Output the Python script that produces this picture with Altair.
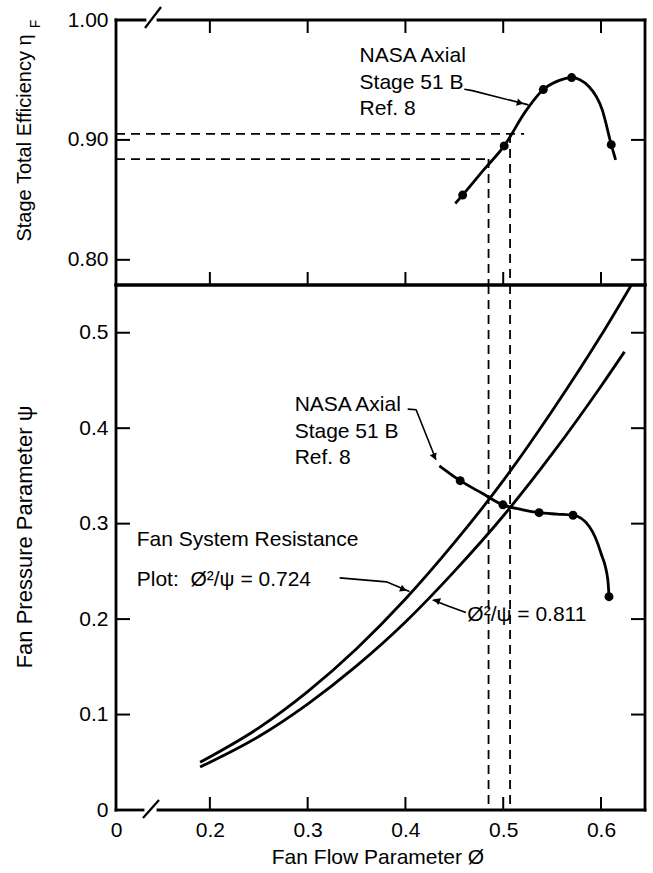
import altair as alt
import pandas as pd

FONT = "Liberation Sans, Arial, sans-serif"

# ---------------- values ----------------
X_MIN, X_MAX = 0.104, 0.645          # broken axis: left edge is labelled 0
ETA_MIN, ETA_MAX = 0.779, 1.0
PSI_MIN, PSI_MAX = 0.0, 0.55

x_tick_values = [0.2, 0.3, 0.4, 0.5, 0.6]
eta_tick_values = [0.8, 0.9, 1.0]
psi_tick_values = [0.0, 0.1, 0.2, 0.3, 0.4, 0.5]

# stage efficiency (top panel)
eff_phi = [0.4585, 0.501, 0.541, 0.570, 0.6105]
eff_eta = [0.854, 0.895, 0.942, 0.952, 0.896]
eff_curve_phi = [0.451, 0.4585, 0.480, 0.501, 0.523, 0.541, 0.5567, 0.570, 0.5878, 0.6013, 0.6105, 0.615]
eff_curve_eta = [0.847, 0.854, 0.875, 0.895, 0.924, 0.942, 0.9494, 0.952, 0.9444, 0.925, 0.896, 0.8833]

# fan pressure parameter (bottom panel)
psi_phi = [0.456, 0.4997, 0.5367, 0.5714, 0.6082]
psi_val = [0.345, 0.3197, 0.3115, 0.3088, 0.2235]
psi_curve_phi = [0.4347, 0.456, 0.478, 0.4997, 0.520, 0.5367, 0.555, 0.5714, 0.588, 0.600, 0.607, 0.6082]
psi_curve_val = [0.3606, 0.345, 0.332, 0.3197, 0.3145, 0.3115, 0.310, 0.3088, 0.297, 0.269, 0.241, 0.2235]

# fan system resistance curves
res724_phi = [0.19, 0.25, 0.30, 0.35, 0.40, 0.45, 0.50, 0.55, 0.60, 0.631]
res724_psi = [0.050, 0.086, 0.124, 0.169, 0.221, 0.280, 0.345, 0.418, 0.497, 0.550]
res811_phi = [0.19, 0.25, 0.30, 0.35, 0.40, 0.45, 0.50, 0.55, 0.60, 0.624]
res811_psi = [0.045, 0.077, 0.111, 0.151, 0.197, 0.250, 0.308, 0.373, 0.444, 0.480]

# operating-point construction lines
op_phi = [0.485, 0.507]
op_eta = [0.884, 0.905]
op_hline_end = [0.4875, 0.5214]

# annotation texts
top_note_lines = ["NASA Axial", "Stage 51 B", "Ref. 8"]
top_note_phi = [0.3531, 0.3531, 0.3531]
top_note_eta = [0.970, 0.9471, 0.9258]
top_leader_phi = [0.4602, 0.4684, 0.5258]
top_leader_eta = [0.9423, 0.9411, 0.9292]

bot_note_lines = ["NASA Axial", "Stage 51 B", "Ref. 8"]
bot_note_phi = [0.2867, 0.2867, 0.2867]
bot_note_psi = [0.4245, 0.3962, 0.3685]
bot_leader_phi = [0.4023, 0.4109, 0.4313]
bot_leader_psi = [0.4200, 0.4193, 0.3669]

res_note_lines = ["Fan System Resistance", "Plot:\u00a0\u00a0Ø²/ψ = 0.724"]
res_note_phi = [0.1252, 0.1252]
res_note_psi = [0.283, 0.2411]
res724_leader_phi = [0.3327, 0.3806, 0.4041]
res724_leader_psi = [0.2432, 0.2390, 0.2288]

res811_note = ["Ø²/ψ = 0.811"]
res811_note_phi = [0.4633]
res811_note_psi = [0.2044]
res811_leader_phi = [0.4619, 0.4449, 0.4279]
res811_leader_psi = [0.2068, 0.2131, 0.2201]

# arrow heads (position and pointing direction, degrees)
top_arrow = dict(phi=[0.5173], val=[0.9308], ang=[15])
bot_arrow = dict(phi=[0.4296], val=[0.3700], ang=[67])
a724_arrow = dict(phi=[0.3980], val=[0.2311], ang=[23])
a811_arrow = dict(phi=[0.4320], val=[0.2195], ang=[202])

# ---------------- layout ----------------
W = 529
H_TOP = 265
H_BOT = 525
LW = 2.8
FS_LABEL = 21
FS_TEXT = 21

xs = alt.Scale(domain=[X_MIN, X_MAX], nice=False, zero=False)
ys_top = alt.Scale(domain=[ETA_MIN, ETA_MAX], nice=False, zero=False)
ys_bot = alt.Scale(domain=[PSI_MIN, PSI_MAX], nice=False, zero=False)

x_axis_bot = alt.Axis(values=[X_MIN] + x_tick_values,
                      labelExpr="datum.value < 0.15 ? '0' : format(datum.value, '.1f')",
                      title=None, ticks=False, tickSize=0, domain=False, grid=False,
                      labelFont=FONT, labelFontSize=FS_LABEL, labelColor="black",
                      labelPadding=9, labelOverlap=False, labelFlush=False)
y_axis_top = alt.Axis(values=eta_tick_values, format=".2f", title=None, ticks=False,
                      tickSize=0, domain=False, grid=False, labelFont=FONT,
                      labelFontSize=FS_LABEL, labelColor="black", labelPadding=8,
                      labelOverlap=False, labelFlush=False)
y_axis_bot = alt.Axis(values=psi_tick_values,
                      labelExpr="datum.value == 0 ? '0' : format(datum.value, '.1f')",
                      title=None, ticks=False, tickSize=0, domain=False, grid=False,
                      labelFont=FONT, labelFontSize=FS_LABEL, labelColor="black",
                      labelPadding=8, labelOverlap=False, labelFlush=False)


def one():
    return pd.DataFrame({"k": [0]})


def seg(x1, y1, x2, y2, w=LW, opacity=1.0, cap="square"):
    return alt.Chart(one()).mark_rule(color="black", strokeWidth=w, opacity=opacity,
                                      strokeCap=cap).encode(
        x=alt.value(x1), y=alt.value(y1), x2=alt.value(x2), y2=alt.value(y2))


def vtext(txt, x, y, size=21, angle=270, baseline="alphabetic"):
    return alt.Chart(one()).mark_text(text=txt, angle=angle, font=FONT, fontSize=size,
                                      color="black", align="center",
                                      baseline=baseline).encode(
        x=alt.value(x), y=alt.value(y))


def make_panel(panel):
    if panel == "top":
        ys, yax, H = ys_top, y_axis_top, H_TOP
        xax = None
        yticks = eta_tick_values[:-1]
    else:
        ys, yax, H = ys_bot, y_axis_bot, H_BOT
        xax = x_axis_bot
        yticks = psi_tick_values[1:]

    def X(f):
        return alt.X(f"{f}:Q", scale=xs, axis=xax)

    def Y(f):
        return alt.Y(f"{f}:Q", scale=ys, axis=yax)

    def line(phis, vals, w=LW):
        return alt.Chart(pd.DataFrame({"phi": phis, "v": vals})).mark_line(
            color="black", strokeWidth=w, interpolate="monotone").encode(
            x=X("phi"), y=Y("v"), order="phi:Q")

    def leader(phis, vals):
        df = pd.DataFrame({"phi": phis, "v": vals, "i": list(range(len(phis)))})
        return alt.Chart(df).mark_line(color="black", strokeWidth=1.6,
                                       interpolate="linear").encode(
            x=X("phi"), y=Y("v"), order=alt.Order("i:Q"))

    def arrow(a):
        df = pd.DataFrame({"phi": a["phi"], "v": a["val"]})
        return alt.Chart(df).mark_point(shape="triangle-right", filled=True, color="black",
                                        size=55, opacity=1, angle=a["ang"][0]).encode(
            x=X("phi"), y=Y("v"))

    def notes(lines, phis, vals, size=FS_TEXT):
        df = pd.DataFrame({"phi": phis, "v": vals, "t": lines})
        return alt.Chart(df).mark_text(align="left", baseline="middle", font=FONT,
                                       fontSize=size, color="black").encode(
            x=X("phi"), y=Y("v"), text="t:N")

    layers = []
    # axis carrier
    layers.append(alt.Chart(pd.DataFrame({"phi": [X_MIN], "v": [ys.domain[0]]}))
                  .mark_point(opacity=0).encode(x=X("phi"), y=Y("v")))

    # inward ticks on all four sides
    tx = pd.DataFrame({"t": x_tick_values})
    ty = pd.DataFrame({"t": yticks})
    TL = 13
    if panel == "top":
        layers.append(alt.Chart(tx).mark_rule(color="black", strokeWidth=2).encode(
            x=X("t"), y=alt.value(0), y2=alt.value(TL)))
    layers.append(alt.Chart(tx).mark_rule(color="black", strokeWidth=2).encode(
        x=X("t"), y=alt.value(H - TL), y2=alt.value(H)))
    layers.append(alt.Chart(ty).mark_rule(color="black", strokeWidth=2).encode(
        y=Y("t"), x=alt.value(0), x2=alt.value(TL + 1)))
    layers.append(alt.Chart(ty).mark_rule(color="black", strokeWidth=2).encode(
        y=Y("t"), x=alt.value(W - TL - 1), x2=alt.value(W)))

    # frame with axis break
    layers.append(seg(0, 0, 0, H))
    layers.append(seg(W, 0, W, H))
    if panel == "top":
        layers.append(seg(0, 0, 29, 0))
        layers.append(seg(42, 0, W, 0))
        layers.append(seg(29, 8, 45, -13, w=2.2, cap="butt"))
        layers.append(seg(0, H, W, H))
        layers.append(seg(-116, -20, -116, -20, w=1, opacity=0))  # page anchor
    else:
        layers.append(seg(0, 0, W, 0))
        layers.append(seg(0, H, 27, H))
        layers.append(seg(42, H, W, H))
        layers.append(seg(27, H + 8, 43, H - 10, w=2.2, cap="butt"))

    dash = [9, 6]
    if panel == "top":
        hd = pd.DataFrame({"x0": [X_MIN, X_MIN], "x1": op_hline_end, "v": op_eta})
        layers.append(alt.Chart(hd).mark_rule(color="black", strokeWidth=1.8,
                                              strokeDash=dash).encode(
            x=X("x0"), x2="x1:Q", y=Y("v")))
        vd = pd.DataFrame({"phi": op_phi, "v": op_eta})
        layers.append(alt.Chart(vd).mark_rule(color="black", strokeWidth=1.8,
                                              strokeDash=dash).encode(
            x=X("phi"), y=Y("v"), y2=alt.value(H)))
        layers.append(line(eff_curve_phi, eff_curve_eta))
        layers.append(alt.Chart(pd.DataFrame({"phi": eff_phi, "v": eff_eta}))
                      .mark_circle(size=80, color="black", opacity=1).encode(x=X("phi"), y=Y("v")))
        layers.append(notes(top_note_lines, top_note_phi, top_note_eta))
        layers.append(leader(top_leader_phi, top_leader_eta))
        layers.append(arrow(top_arrow))
        layers.append(vtext("Stage Total Efficiency η", -85, 118, size=20))
        layers.append(vtext("F", -80, 4, size=14, baseline="middle"))
        return alt.layer(*layers).properties(width=W, height=H_TOP)
    else:
        vd = pd.DataFrame({"phi": op_phi})
        layers.append(alt.Chart(vd).mark_rule(color="black", strokeWidth=1.8,
                                              strokeDash=dash).encode(
            x=X("phi"), y=alt.value(0), y2=alt.value(H)))
        layers.append(line(res724_phi, res724_psi))
        layers.append(line(res811_phi, res811_psi))
        layers.append(line(psi_curve_phi, psi_curve_val))
        layers.append(alt.Chart(pd.DataFrame({"phi": psi_phi, "v": psi_val}))
                      .mark_circle(size=80, color="black", opacity=1).encode(x=X("phi"), y=Y("v")))
        layers.append(notes(bot_note_lines, bot_note_phi, bot_note_psi))
        layers.append(leader(bot_leader_phi, bot_leader_psi))
        layers.append(arrow(bot_arrow))
        layers.append(notes(res_note_lines, res_note_phi, res_note_psi))
        layers.append(leader(res724_leader_phi, res724_leader_psi))
        layers.append(arrow(a724_arrow))
        layers.append(notes(res811_note, res811_note_phi, res811_note_psi))
        layers.append(leader(res811_leader_phi, res811_leader_psi))
        layers.append(arrow(a811_arrow))
        layers.append(vtext("Fan Pressure Parameter ψ", -84, 252, size=22))
        layers.append(vtext("Fan Flow Parameter Ø", 262, H + 48, angle=0, baseline="middle"))
        return alt.layer(*layers).properties(width=W, height=H_BOT)


top = make_panel("top")
bottom = make_panel("bottom")

chart = alt.vconcat(top, bottom, spacing=0, bounds="flush").properties(
    padding={"left": 0, "top": 0, "right": 4, "bottom": 0},
    background="white",
).configure_view(stroke=None)

chart.save("out.html", embed_options={"renderer": "svg", "actions": False})
